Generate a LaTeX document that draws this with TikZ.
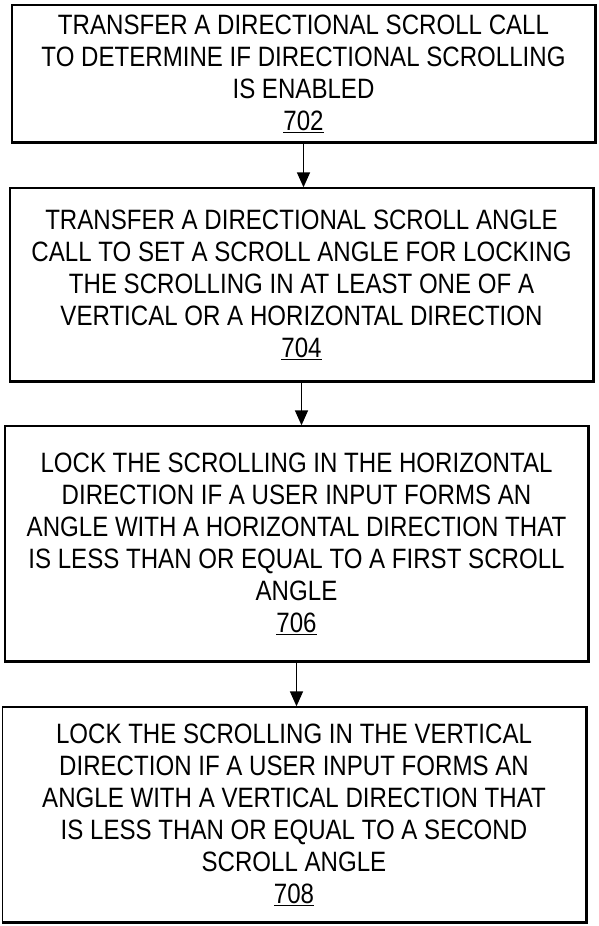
\documentclass[tikz,border=0pt]{standalone}
\usepackage{fontspec}
\setmainfont{Liberation Sans}[FakeStretch=0.86]
\usetikzlibrary{arrows.meta}

\begin{document}
\begin{tikzpicture}[x=1pt, y=-1pt,
  stepbox/.style={draw=black, line width=1.4pt, minimum width=583pt, inner sep=0pt, align=center, font=\fontsize{28}{32}\selectfont},
  flowarrow/.style={-{Triangle[length=15pt, width=13pt]}, line width=1.6pt}]
  \useasboundingbox (0,0) rectangle (599,926);
  \node[stepbox, minimum height=137pt] (s702) at (303.5,73.5) {TRANSFER A DIRECTIONAL SCROLL CALL\\TO DETERMINE IF DIRECTIONAL SCROLLING\\IS ENABLED\\\underline{702}};
  \node[stepbox, minimum height=193pt] (s704) at (301.5,284.5) {TRANSFER A DIRECTIONAL SCROLL ANGLE\\CALL TO SET A SCROLL ANGLE FOR LOCKING\\THE SCROLLING IN AT LEAST ONE OF A\\VERTICAL OR A HORIZONTAL DIRECTION\\\underline{704}};
  \node[stepbox, minimum height=235pt] (s706) at (296.5,543.5) {LOCK THE SCROLLING IN THE HORIZONTAL\\DIRECTION IF A USER INPUT FORMS AN\\ANGLE WITH A HORIZONTAL DIRECTION THAT\\IS LESS THAN OR EQUAL TO A FIRST SCROLL\\ANGLE\\\underline{706}};
  \node[stepbox, minimum height=215pt] (s708) at (294,814.5) {LOCK THE SCROLLING IN THE VERTICAL\\DIRECTION IF A USER INPUT FORMS AN\\ANGLE WITH A VERTICAL DIRECTION THAT\\IS LESS THAN OR EQUAL TO A SECOND\\SCROLL ANGLE\\\underline{708}};
  % heavier bottom and right edges
  \foreach \b in {s702,s704,s706,s708}
    \draw[line width=2.6pt] (\b.north east) -- (\b.south east) -- (\b.south west);
  \draw[flowarrow] (s702.south) -- (s702.south |- s704.north);
  \draw[flowarrow] (s704.south) -- (s704.south |- s706.north);
  \draw[flowarrow] (s706.south) -- (s706.south |- s708.north);
\end{tikzpicture}
\end{document}
